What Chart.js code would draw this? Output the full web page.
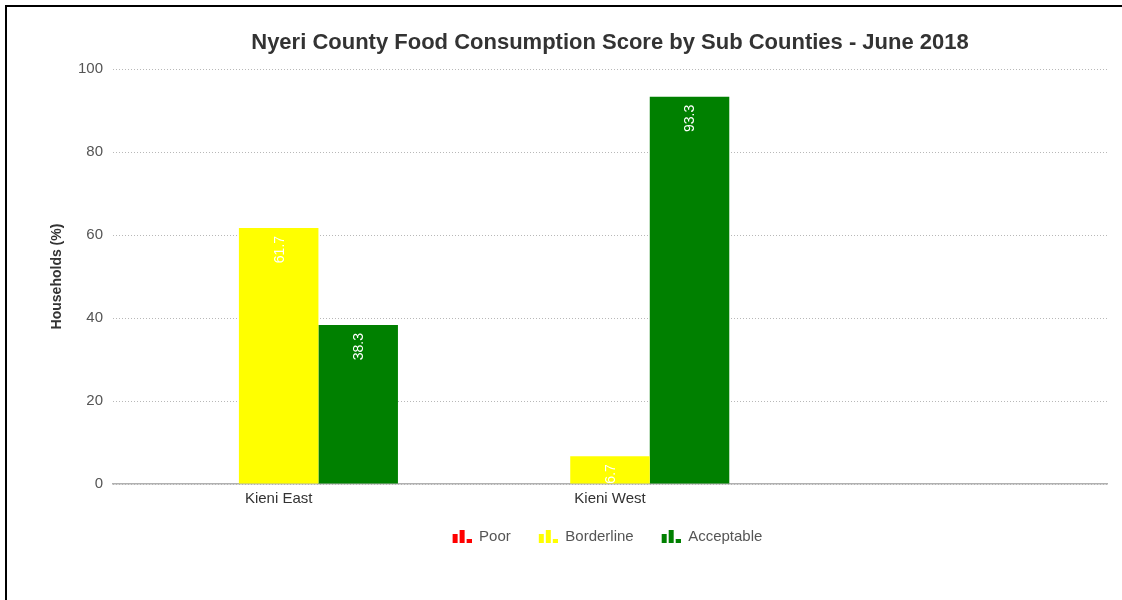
<!DOCTYPE html>
<html lang="en">
<head>
    <meta charset="UTF-8">
    <title>Nyeri County Food Consumption Score</title>
    <script src="https://cdn.jsdelivr.net/npm/chart.js"></script>
    <style>
        html, body {
            margin: 0;
            padding: 0;
            width: 1122px;
            height: 600px;
            overflow: hidden;
            background: #ffffff;
        }

        .frame {
            position: absolute;
            left: 5px;
            top: 5px;
            width: 1300px;
            height: 700px;
            border: 2px solid #000000;
        }

        #chart-container {
            position: absolute;
            left: 0;
            top: 0;
            width: 1220px;
            height: 600px;
        }
    </style>
</head>
<body>
    <div class="frame"></div>
    <div id="chart-container">
        <canvas id="fcsChart" width="1220" height="600"></canvas>
    </div>

    <script>
        // Food consumption score per sub county (% of households)
        const subCounties = ['Kieni East', 'Kieni West', ''];
        const poor = [0, 0, null];
        const borderline = [61.7, 6.7, null];
        const acceptable = [38.3, 93.3, null];
        const yTicks = [0, 20, 40, 60, 80, 100];

        const FONT = "'Liberation Sans', Arial, Helvetica, sans-serif";
        Chart.defaults.font.family = FONT;

        // Small bar-chart glyph used as the legend marker
        // (empty space on the left widens the gap between items)
        function makeBarIcon(color) {
            const c = document.createElement('canvas');
            c.width = 32;
            c.height = 13;
            const g = c.getContext('2d');
            g.fillStyle = color;
            g.fillRect(13, 4, 5, 9);
            g.fillRect(20, 0, 5, 13);
            g.fillRect(27, 9, 5, 4);
            return c;
        }

        const colors = ['#ff0000', '#ffff00', '#008000'];
        const legendIcons = colors.map(makeBarIcon);

        // White rotated value labels near the top of each bar
        const barValueLabels = {
            id: 'barValueLabels',
            afterDatasetsDraw(chart) {
                const ctx = chart.ctx;
                ctx.save();
                ctx.font = '14px ' + FONT;
                ctx.fillStyle = '#ffffff';
                ctx.textAlign = 'right';
                ctx.textBaseline = 'middle';
                chart.data.datasets.forEach((ds, di) => {
                    const meta = chart.getDatasetMeta(di);
                    meta.data.forEach((bar, i) => {
                        const v = ds.data[i];
                        if (!v) return;
                        ctx.save();
                        ctx.translate(bar.x + 1, bar.y + 8);
                        ctx.rotate(-Math.PI / 2);
                        ctx.fillText(v.toFixed(1), 0, 0);
                        ctx.restore();
                    });
                });
                ctx.restore();
            }
        };

        // Nudge the legend row a little to the left of the canvas centre
        const legendNudge = {
            id: 'legendNudge',
            afterLayout(chart) {
                chart.legend.left -= 9;
                chart.legend.right -= 9;
            }
        };

        const ctx = document.getElementById('fcsChart').getContext('2d');
        const fcsChart = new Chart(ctx, {
            type: 'bar',
            data: {
                labels: subCounties,
                datasets: [
                    { label: 'Poor', data: poor, backgroundColor: colors[0] },
                    { label: 'Borderline', data: borderline, backgroundColor: colors[1] },
                    { label: 'Acceptable', data: acceptable, backgroundColor: colors[2] },
                ],
            },
            options: {
                responsive: false,
                animation: false,
                categoryPercentage: 0.72,
                barPercentage: 1.0,
                layout: {
                    padding: { top: 10, left: 40, right: 40, bottom: 46 },
                },
                plugins: {
                    title: {
                        display: true,
                        text: 'Nyeri County Food Consumption Score by Sub Counties - June 2018',
                        color: '#333333',
                        font: { size: 22, weight: 'bold' },
                        padding: { top: 19.8, bottom: 12.8 },
                    },
                    legend: {
                        position: 'bottom',
                        labels: {
                            usePointStyle: true,
                            pointStyleWidth: 32,
                            padding: 15,
                            color: '#555555',
                            font: { size: 15 },
                            generateLabels(chart) {
                                const items = Chart.defaults.plugins.legend.labels.generateLabels(chart);
                                items.forEach((item, i) => { item.pointStyle = legendIcons[i]; });
                                return items;
                            },
                        },
                    },
                    tooltip: { enabled: false },
                },
                scales: {
                    x: {
                        grid: { display: false, drawTicks: false },
                        border: { display: true, color: '#b0b0b0', width: 1.5 },
                        ticks: { color: '#333333', font: { size: 15 }, padding: 6 },
                    },
                    y: {
                        min: 0,
                        max: 100,
                        afterBuildTicks(scale) {
                            scale.ticks = yTicks.map(v => ({ value: v }));
                        },
                        grid: { color: '#b8b8b8', lineWidth: 1, drawTicks: false },
                        border: { display: false, dash: [1, 2] },
                        ticks: { color: '#555555', font: { size: 15 }, padding: 10 },
                        title: {
                            display: true,
                            text: 'Households (%)',
                            color: '#333333',
                            font: { size: 14, weight: 'bold' },
                            padding: { top: 9, bottom: 0 },
                        },
                        afterFit(scale) { scale.width = 73; },
                    },
                    yRight: {
                        position: 'right',
                        grid: { display: false },
                        border: { display: false },
                        ticks: { display: false },
                        afterFit(scale) { scale.width = 73; },
                    },
                },
            },
            plugins: [barValueLabels, legendNudge],
        });
    </script>
</body>
</html>
